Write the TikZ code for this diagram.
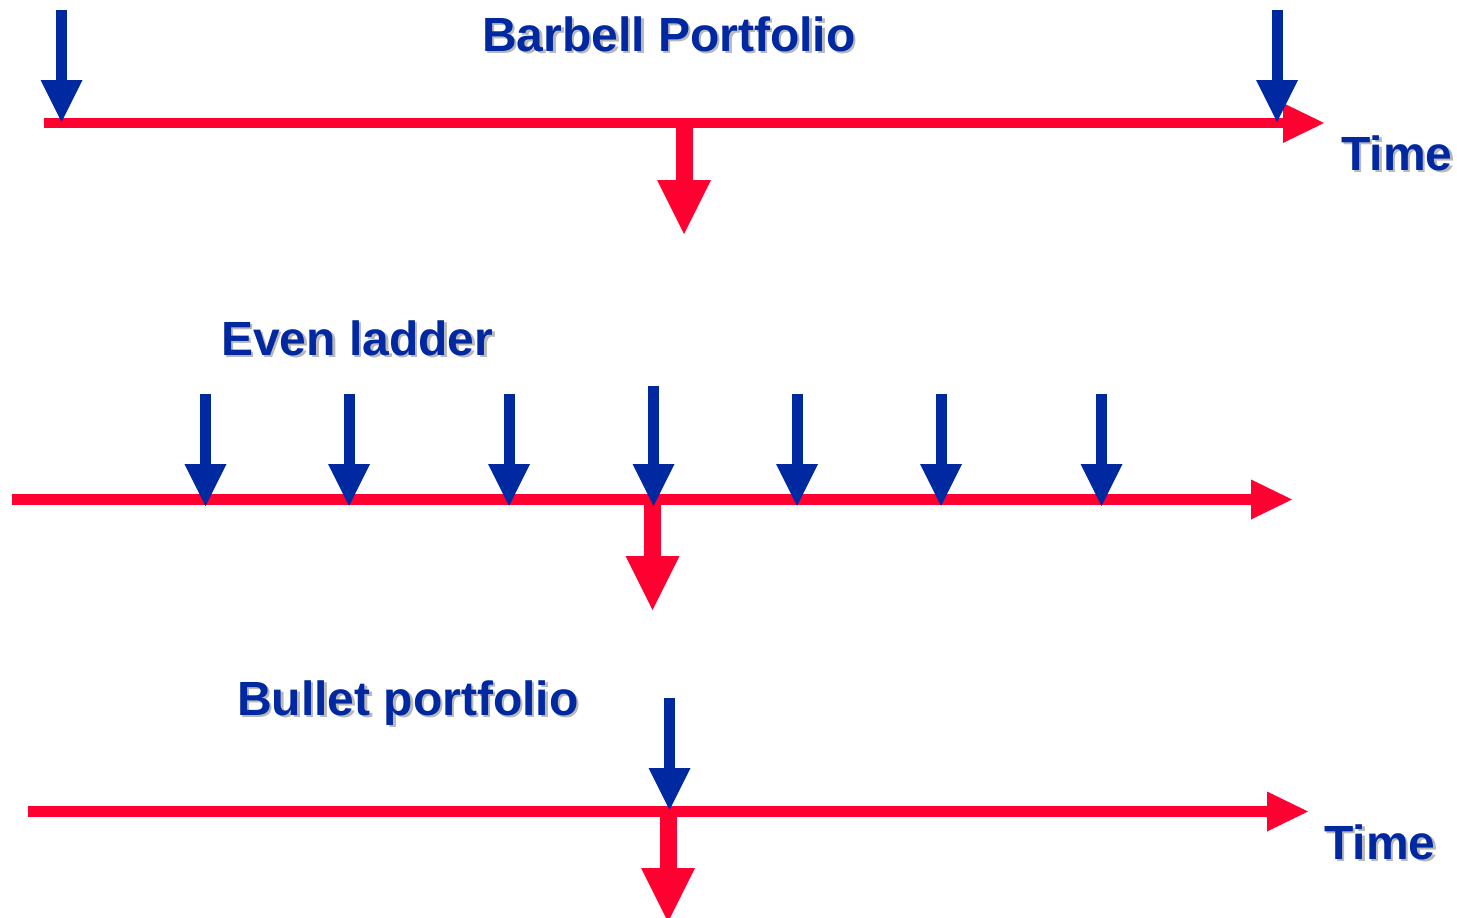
\documentclass[tikz,border=0pt]{standalone}
\usepackage{fontspec}
\setmainfont{Liberation Sans}
\usetikzlibrary{arrows.meta}
\definecolor{tred}{HTML}{FF0030}
\definecolor{tblue}{HTML}{0028A0}
\definecolor{tshad}{HTML}{B8B8B8}
% label with a soft grey drop shadow
\newcommand{\shadowlabel}[4]{%
  \node[lbl,text=tshad] at (#2+2.5,#3+2.5) {#4};
  \node[lbl] (#1) at (#2,#3) {#4};}

\begin{document}
\begin{tikzpicture}[x=1pt,y=-1pt,
  timeline/.style={draw=tred,line width=10.5pt,-{Triangle[length=41pt,width=40pt,line width=0pt]}},
  flowin/.style={draw=tblue,line width=11pt,-{Triangle[length=42pt,width=42pt,line width=0pt]}},
  flowout/.style={draw=tred,line width=17pt,-{Triangle[length=54pt,width=54pt,line width=0pt]}},
  lbl/.style={font=\fontsize{48}{52}\selectfont\bfseries,text=tblue,inner sep=0pt,anchor=base west}]
\useasboundingbox (0,0) rectangle (1457,918);
\clip (0,0) rectangle (1457,918);

% barbell
\coordinate (bstart) at (44,123);
\coordinate (bend) at (1324,123);
\coordinate (bmid) at (684,123);
\coordinate (bout) at (684,234);
\draw[timeline] (bstart) -- (bend);
\draw[flowout] (bmid) -- (bout);
\draw[flowin] (61.5,10) coordinate (bin1) -- (61.5,122);
\draw[flowin] (1277,10) coordinate (bin2) -- (1277,122);
\shadowlabel{barbell}{482}{51}{Barbell Portfolio}
\shadowlabel{time1}{1341}{170}{Time}

% even ladder
\coordinate (lstart) at (12,499.5);
\coordinate (lend) at (1292,499.5);
\coordinate (lmid) at (652.5,499.5);
\coordinate (lout) at (652.5,610);
\draw[timeline] (lstart) -- (lend);
\draw[flowout] (lmid) -- (lout);
\foreach \x/\top [count=\i] in {205.5/394,349/394,509/394,653.5/386,797/394,941/394,1101.5/394}
  \draw[flowin] (\x,\top) coordinate (lin\i) -- (\x,506);
\shadowlabel{ladder}{221}{355}{Even ladder}

% bullet
\coordinate (ustart) at (28,811.5);
\coordinate (uend) at (1308,811.5);
\coordinate (umid) at (668,811.5);
\coordinate (uout) at (668,922);
\draw[timeline] (ustart) -- (uend);
\draw[flowout] (umid) -- (uout);
\draw[flowin] (669.5,698) coordinate (uin) -- (669.5,810);
\shadowlabel{bullet}{237}{715}{Bullet portfolio}
\shadowlabel{time2}{1324}{859}{Time}
\end{tikzpicture}
\end{document}
